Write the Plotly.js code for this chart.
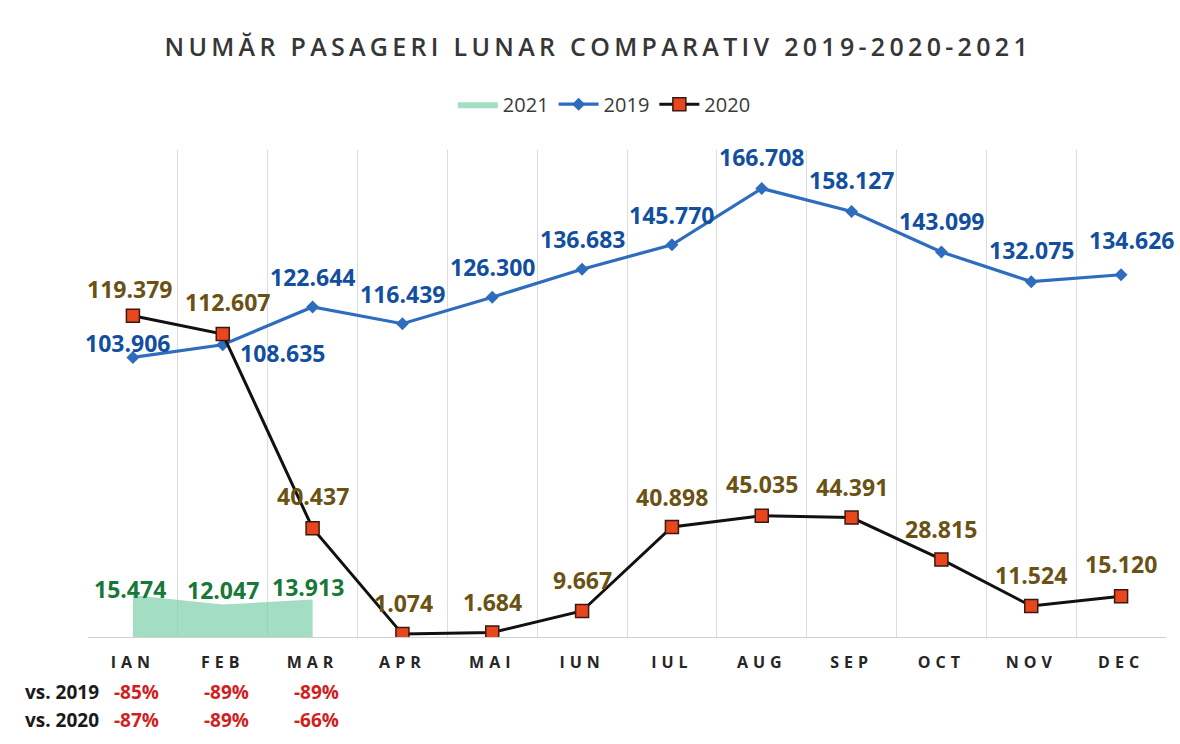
<!DOCTYPE html>
<html><head><meta charset="utf-8">
<script src="https://cdn.plot.ly/plotly-3.0.1.min.js"></script>
<style>
html,body{margin:0;padding:0;background:#fff;}
#chart{width:1180px;height:744px;}
.gtitle{letter-spacing:4.3px;}
.xtick text{letter-spacing:5px;}
</style></head><body><div id="chart"></div>
<script>
// ---- data ----
const months = ['IAN','FEB','MAR','APR','MAI','IUN','IUL','AUG','SEP','OCT','NOV','DEC'];
const y2019 = [103906,108635,122644,116439,126300,136683,145770,166708,158127,143099,132075,134626];
const y2020 = [119379,112607,40437,1074,1684,9667,40898,45035,44391,28815,11524,15120];
const months2021 = ['IAN','FEB','MAR'];
const y2021 = [15474,12047,13913];
const vsMonths = ['IAN','FEB','MAR'];
const vs2019 = ['-85%','-89%','-89%'];
const vs2020 = ['-87%','-89%','-66%'];

// ---- label offsets (style, px) ----
const off2019 = [[-5,14],[60,-8],[0,30],[0,30],[0,30],[0,30],[0,30],[0,31],[0,32],[0,31],[0,32],[10,35]];
const off2020 = [[-3,27],[5,32],[0,32],[1,31],[0,30],[0,31],[0,30],[0,32],[0,31],[0,30],[0,31],[0,32]];
const off2021 = [[-3,6],[0,15],[-5,13]];

function fmt(v){ return String(v).replace(/\B(?=(\d{3})+(?!\d))/g,'.'); }

const labelFont = {family:'Open Sans', size:23, weight:700};
const ann = [];
function addLabels(xs, ys, offs, color){
  xs.forEach((m,i)=>{
    ann.push({x:m, y:ys[i], xref:'x', yref:'y', text:fmt(ys[i]), showarrow:false,
      xshift:offs[i][0], yshift:offs[i][1], font:Object.assign({color:color}, labelFont)});
  });
}
addLabels(months, y2019, off2019, '#124f9e');
addLabels(months, y2020, off2020, '#6b5214');
addLabels(months2021, y2021, off2021, '#17783a');

const rowFont = {family:'Open Sans', size:19, weight:700};
ann.push({x:0.012, y:-0.113, xref:'paper', yref:'paper', xanchor:'right', yanchor:'middle', text:'vs. 2019', showarrow:false, font:Object.assign({color:'#1a1a1a'}, rowFont)});
ann.push({x:0.012, y:-0.170, xref:'paper', yref:'paper', xanchor:'right', yanchor:'middle', text:'vs. 2020', showarrow:false, font:Object.assign({color:'#1a1a1a'}, rowFont)});
vsMonths.forEach((m,i)=>{
  ann.push({x:m, y:-0.113, xref:'x', yref:'paper', yanchor:'middle', text:vs2019[i], showarrow:false, xshift:4, font:Object.assign({color:'#d11f1f'}, rowFont)});
  ann.push({x:m, y:-0.170, xref:'x', yref:'paper', yanchor:'middle', text:vs2020[i], showarrow:false, xshift:4, font:Object.assign({color:'#d11f1f'}, rowFont)});
});

const traces = [
  {name:'2021', x:months2021, y:y2021, type:'scatter', mode:'lines', fill:'tozeroy',
   fillcolor:'rgba(128,208,172,0.72)', line:{width:0, color:'rgba(128,208,172,0.72)'}, hoverinfo:'skip'},
  {name:'2019', x:months, y:y2019, type:'scatter', mode:'lines+markers',
   line:{color:'#2e6dbd', width:3.2}, marker:{symbol:'diamond', size:10, color:'#2e6dbd'}},
  {name:'2020', x:months, y:y2020, type:'scatter', mode:'lines+markers',
   line:{color:'#111111', width:3}, marker:{symbol:'square', size:13, color:'#e8461c', line:{color:'#3a1a10', width:1.5}}}
];

const layout = {
  width:1180, height:744,
  margin:{l:88, r:14, t:150, b:107},
  paper_bgcolor:'#ffffff', plot_bgcolor:'#ffffff',
  title:{text:'NUMĂR PASAGERI LUNAR COMPARATIV 2019-2020-2021', xref:'container', x:0.507, yref:'container', y:0.937, yanchor:'middle',
    font:{family:'Open Sans', size:25, weight:600, color:'#363636'}},
  showlegend:true,
  legend:{orientation:'h', x:0.479, xanchor:'center', y:1.094, yanchor:'middle', font:{family:'Open Sans', size:20, color:'#3a3a3a'}, itemwidth:40, tracegroupgap:0},
  xaxis:{type:'category', categoryarray:months, categoryorder:'array', range:[-0.5,11.5],
    tickson:'boundaries', showgrid:true, gridcolor:'#dcdcdc', gridwidth:1, ticks:'',
    showline:true, linecolor:'#d0d0d0', linewidth:1, zeroline:false, fixedrange:true,
    tickfont:{family:'Open Sans', size:16, weight:700, color:'#262626'}, ticklabelstandoff:11},
  yaxis:{range:[0,181000], showgrid:false, zeroline:false, showticklabels:false, showline:false, fixedrange:true},
  annotations:ann,
  separators:',.'
};

Plotly.newPlot('chart', traces, layout, {staticPlot:true, displayModeBar:false});
</script></body></html>
